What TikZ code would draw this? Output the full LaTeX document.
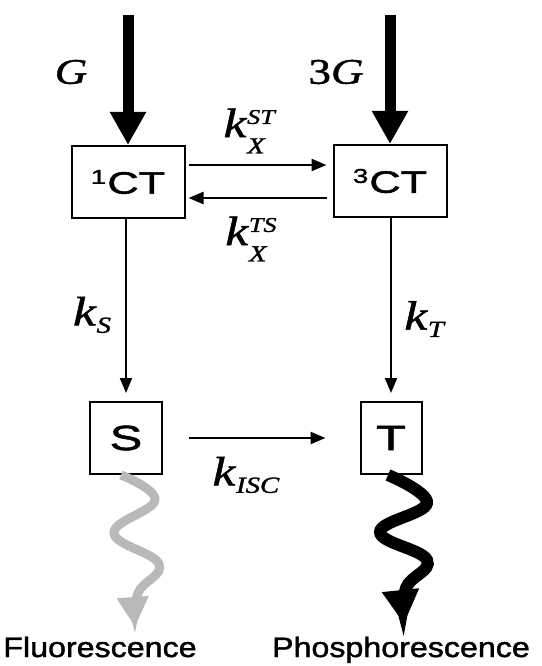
\documentclass[tikz,border=0pt]{standalone}
\usepackage{fontspec}
\setmainfont{Liberation Serif}[FakeStretch=1.25,FakeBold=1.2]
\newfontfamily\boxfont{Liberation Sans}[FakeStretch=1.4,FakeBold=1.5]
\newfontfamily\tagfont{Liberation Sans}[FakeStretch=1.15,FakeBold=1.5]
\usetikzlibrary{arrows.meta}

\newcommand{\kxy}[2]{\textit{k}\rlap{\raisebox{-0.4em}{\fontsize{23}{23}\selectfont\textit{#1}}}\raisebox{0.32em}{\fontsize{21}{21}\selectfont\textit{#2}}}
\newcommand{\kx}[1]{\textit{k}\raisebox{-0.18em}{\fontsize{23}{23}\selectfont\textit{#1}}}
\newcommand{\spin}[2]{\raisebox{0.32em}{\fontsize{20}{20}\selectfont #1}\hspace{1pt}#2}

\begin{document}
\begin{tikzpicture}[x=1pt,y=-1pt,
  state/.style={draw=black,line width=2pt,inner sep=0pt,minimum width=113pt,minimum height=72pt,font=\boxfont\fontsize{31}{31}\selectfont},
  single/.style={state,font=\boxfont\fontsize{35}{35}\selectfont},
  pump/.style={line width=11pt,-{Triangle[length=33pt,width=34pt]}},
  rate/.style={line width=2.4pt,-{Triangle[length=15pt,width=12pt]}},
  fluor/.style={draw=gray!55,line width=9pt,-{Triangle[length=30pt,width=30pt]}},
  phos/.style={draw=black,line width=12pt,-{Triangle[length=34pt,width=35pt]}},
  rlab/.style={inner sep=0pt,font=\fontsize{41}{41}\selectfont},
  glab/.style={inner sep=0pt,font=\fontsize{36}{36}\selectfont},
  tag/.style={inner sep=0pt,anchor=base,font=\tagfont\fontsize{28}{28}\selectfont}]
\useasboundingbox (0,0) rectangle (541,666);
% states
\node[state] (sCT) at (128,182) {\spin{1}{CT}};
\node[state] (tCT) at (390,181) {\spin{3}{CT}};
\node[single,minimum width=72pt] (S) at (126,438) {S};
\node[single,minimum width=61pt] (T) at (391,438) {T};
% generation
\coordinate (gIn) at (128,15);
\coordinate (tIn) at (390,15);
\draw[pump] (gIn) -- (sCT.north);
\draw[pump] (tIn) -- (tCT.north);
\node[glab] (g1) at (71,72) {\textit{G}};
\node[glab] (g3) at (336,72) {3\textit{G}};
% transfer between the CT states
\draw[rate,shorten <=3pt,shorten >=6pt] ([yshift=17pt]sCT.east) -- ([yshift=17pt]sCT.east -| tCT.west);
\draw[rate,shorten <=6pt,shorten >=3pt] ([yshift=-17pt]tCT.west) -- ([yshift=-17pt]tCT.west -| sCT.east);
\node[rlab] (kST) at (250,131) {\kxy{X}{ST}};
\node[rlab] (kTS) at (251,239) {\kxy{X}{TS}};
% decay to S and T
\draw[rate,line width=2pt,shorten >=8pt] (S.north |- sCT.south) -- (S.north);
\draw[rate,line width=2pt,shorten >=8pt] (T.north |- tCT.south) -- (T.north);
\node[rlab] (kS) at (92,315) {\kx{S}};
\node[rlab] (kT) at (425,319) {\kx{T}};
\draw[rate,shorten <=26pt,shorten >=34pt] (S.east) -- (T.west);
\node[rlab] (kISC) at (246,475) {\kx{ISC}};
% emission
\coordinate (fStart) at ([xshift=-5pt]S.south);
\coordinate (fEnd) at (135,627);
\draw[fluor] plot[smooth,tension=0.7] coordinates {(fStart) (155,500) (114,533) (159,564) (138,593) (fEnd)};
\coordinate (pStart) at ([xshift=-3pt]T.south);
\coordinate (pEnd) at (404,624);
\draw[phos] plot[smooth,tension=0.7] coordinates {(pStart) (427,503) (380,532) (427,560) (406,588) (pEnd)};
\node[tag] (fl) at (100,657) {Fluorescence};
\node[tag] (ph) at (401,657) {Phosphorescence};
\end{tikzpicture}
\end{document}
